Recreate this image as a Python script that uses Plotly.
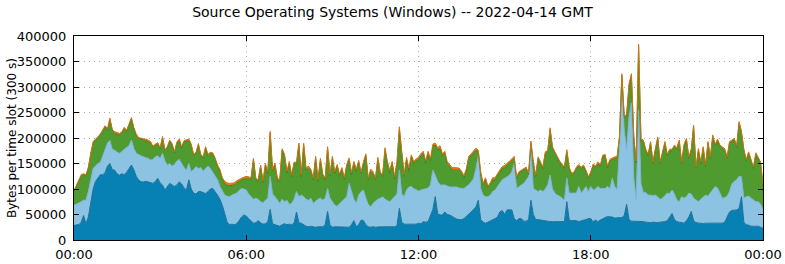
import numpy as np
import plotly.graph_objects as go

# Time slots (300 s each), 00:00 .. 24:00
slot_minutes = 5
n_slots = 289

x_tick_vals = [0, 6, 12, 18, 24]
x_tick_text = ["00:00", "06:00", "12:00", "18:00", "00:00"]
y_tick_vals = [0, 50000, 100000, 150000, 200000, 250000, 300000, 350000, 400000]

# Readings from the picture, in thousands of bytes per slot.
# Top edge of the dark-blue layer
dark_top_k = [
    28,30,30,35,48,32,45,75,100,115,122,128,
    128,132,145,150,138,137,130,127,130,128,133,140,
    147,138,125,118,114,114,115,114,112,111,115,121,
    112,108,98,105,111,108,105,108,114,110,102,98,
    118,100,92,90,95,95,93,91,95,100,101,95,
    88,80,68,52,35,30,31,30,32,38,45,49,
    47,42,38,33,34,38,34,31,32,36,60,32,
    30,28,27,30,32,30,31,30,33,55,34,33,
    30,27,26,27,26,25,26,26,26,30,56,30,
    25,26,26,25,26,25,26,25,30,38,26,30,
    39,38,30,26,25,26,25,26,26,26,26,25,
    26,26,26,28,62,35,31,31,31,30,31,31,
    33,32,36,35,36,48,60,85,52,49,49,55,
    50,49,46,43,41,40,40,42,46,50,55,60,
    65,78,40,35,33,35,37,39,42,45,55,58,
    50,59,59,59,42,38,42,42,37,37,40,78,
    50,40,40,39,39,38,37,36,36,36,36,36,
    36,36,75,39,38,38,38,36,38,39,40,42,
    42,36,39,36,39,42,44,46,46,45,43,44,
    44,44,48,70,40,37,37,37,37,37,36,35,
    34,34,35,34,34,35,35,36,38,45,52,40,
    36,35,34,33,38,45,56,38,34,33,32,32,
    33,33,33,34,34,34,33,33,35,45,55,58,
    59,59,62,85,35,30,29,27,27,27,27,25,23,
]
# Top edge of the light-blue layer
light_top_k = [
    68,70,72,75,78,78,95,120,140,145,150,152,
    165,175,190,195,178,176,172,170,173,178,182,185,
    196,180,170,167,165,163,162,160,157,158,163,165,
    160,170,155,147,150,145,148,155,158,150,142,137,
    150,134,138,144,140,142,135,140,145,140,133,125,
    118,105,95,88,86,85,88,90,92,97,101,100,
    98,90,84,80,82,80,75,73,78,82,125,90,
    85,78,72,80,75,78,70,72,80,95,85,88,
    85,80,78,82,72,76,80,82,78,82,101,82,
    76,68,66,72,76,80,85,111,95,80,72,88,
    95,98,82,70,65,72,76,80,82,85,80,78,
    75,80,85,90,137,90,85,98,104,105,101,98,
    96,98,99,100,102,108,137,127,115,108,108,108,
    106,104,104,104,104,102,101,101,105,108,114,120,
    140,165,101,88,85,85,88,95,98,104,111,118,
    121,124,127,134,150,101,105,108,111,118,124,178,
    101,98,95,98,95,100,108,127,100,92,88,86,
    82,78,121,92,92,92,92,105,92,98,105,95,
    105,98,100,105,101,101,101,105,101,121,105,99,
    180,295,215,178,240,269,120,80,255,110,93,93,
    88,88,87,88,83,80,82,88,92,91,98,90,
    78,75,85,82,85,92,90,82,78,75,80,85,
    88,86,92,100,105,102,92,82,83,86,95,110,
    115,118,125,124,82,85,86,82,78,75,75,70,60,
]
# Top edge of the green layer
green_top_k = [
    95,105,115,125,128,125,140,170,190,195,200,205,
    212,222,215,236,215,209,208,206,210,218,212,225,
    237,218,205,199,197,196,195,193,190,182,185,188,
    178,200,175,180,193,186,170,190,195,180,192,193,
    195,185,165,170,186,165,160,180,165,170,168,158,
    144,135,118,110,107,106,107,108,112,115,118,120,
    120,120,118,157,118,115,144,112,147,130,209,135,
    147,118,115,176,165,131,150,124,150,148,186,124,
    186,137,140,135,118,160,115,157,125,118,180,125,
    160,130,145,125,138,118,145,157,128,150,134,152,
    130,150,165,118,135,130,118,157,130,124,176,150,
    131,150,120,150,216,170,125,157,135,163,150,155,
    157,165,170,150,170,155,183,186,176,180,165,170,
    150,144,137,137,137,137,131,121,135,160,165,170,
    176,172,130,108,118,103,108,118,118,127,133,140,
    142,146,150,155,160,121,131,134,137,140,128,190,
    150,124,160,150,140,170,172,216,180,170,160,152,
    146,140,173,140,128,130,140,145,140,144,134,121,
    130,146,142,150,144,163,165,142,155,158,160,160,
    200,322,240,243,302,322,200,152,380,195,193,175,
    165,190,150,176,199,150,170,190,165,175,175,183,
    178,193,150,185,196,160,175,222,140,176,150,180,
    144,190,160,203,185,195,183,180,176,160,190,193,
    196,182,229,210,175,155,170,155,140,168,160,150,105,
]
# Thin orange layer on top
orange_k = [
    2,2,3,3,2,3,3,2,3,3,2,3,
    3,2,3,3,2,3,3,3,2,3,3,3,
    3,3,3,2,3,3,3,3,3,2,3,3,
    3,3,2,3,3,3,3,2,3,3,3,3,
    3,3,3,2,3,3,3,3,3,2,3,3,
    3,3,4,5,5,5,5,4,4,4,3,3,
    5,4,4,3,3,3,3,4,3,4,4,3,
    4,4,3,3,3,4,4,3,3,4,4,4,
    4,4,5,4,3,4,4,3,4,4,3,4,
    4,4,3,4,4,4,3,4,4,4,5,4,
    3,4,4,3,4,4,3,5,3,4,5,4,
    5,4,4,4,6,4,4,5,6,4,4,4,
    5,4,4,5,4,4,5,4,5,5,4,4,
    4,4,5,5,4,4,4,5,5,4,4,4,
    4,4,4,3,4,3,4,4,4,3,4,4,
    4,4,4,4,4,3,3,3,3,3,3,4,
    3,3,3,3,3,3,3,4,3,3,3,3,
    3,3,4,3,3,3,3,3,3,3,3,3,
    3,3,3,3,3,3,3,3,3,3,3,3,
    3,4,3,3,4,4,3,3,4,3,3,3,
    3,3,3,3,3,3,3,3,3,3,3,3,
    3,3,3,3,3,3,3,3,3,3,3,3,
    3,3,3,3,3,3,3,3,3,3,3,3,
    3,3,3,3,3,3,3,3,3,3,3,3,3,
]

hours = np.arange(n_slots) * slot_minutes / 60.0
dark = np.array(dark_top_k, float) * 1000
light = (np.array(light_top_k, float) - np.array(dark_top_k, float)) * 1000
green = (np.array(green_top_k, float) - np.array(light_top_k, float)) * 1000
orange = np.array(orange_k, float) * 1000

layers = [
    ("dark", dark, "#0781b3", "#1b6f99"),
    ("light", light, "#8cc3e2", "#7eb4d6"),
    ("green", green, "#4f9b2f", "#3c8424"),
    ("orange", orange, "#e07c12", "#d2730c"),
]

fig = go.Figure()
for name, vals, fillc, linec in layers:
    fig.add_trace(go.Scatter(
        x=hours, y=vals, name=name, mode="lines",
        stackgroup="one", fillcolor=fillc,
        line=dict(color=linec, width=1),
        hoverinfo="skip",
    ))

font_family = "DejaVu Sans"
grid_dash = "1px,4px"
plot_left, plot_width = 74, 689
fig.update_layout(
    width=785, height=264,
    margin=dict(l=74, r=22, t=36, b=24),
    paper_bgcolor="white", plot_bgcolor="white",
    showlegend=False,
    font=dict(family=font_family, size=13, color="black"),
    title=dict(text="Source Operating Systems (Windows) -- 2022-04-14 GMT",
               x=0.5, xanchor="center", y=1 - 12 / 264, yanchor="middle",
               yref="container", font=dict(family=font_family, size=14, color="black")),
)
fig.add_annotation(
    text="Bytes per time slot (300 s)", textangle=-90,
    xref="paper", yref="paper", x=(12 - plot_left) / plot_width, y=0.5,
    xanchor="center", yanchor="middle", showarrow=False,
    font=dict(family=font_family, size=12, color="black"),
)
fig.update_xaxes(
    range=[0, 24], tickvals=x_tick_vals, ticktext=x_tick_text,
    showline=True, linecolor="black", linewidth=1, mirror="allticks",
    ticks="inside", ticklen=5, tickcolor="black",
    showgrid=True, gridcolor="#a8a8a8", griddash=grid_dash, gridwidth=1,
    zeroline=False, tickfont=dict(size=13), automargin=False,
    ticklabelstandoff=2,
)
fig.update_yaxes(
    range=[0, 400000], tickvals=y_tick_vals, tickformat="d",
    showline=True, linecolor="black", linewidth=1, mirror="allticks",
    ticks="inside", ticklen=5, tickcolor="black",
    showgrid=True, gridcolor="#a8a8a8", griddash=grid_dash, gridwidth=1,
    zeroline=False, tickfont=dict(size=13), automargin=False,
    ticklabelstandoff=4,
)
fig.write_html("out.html")
